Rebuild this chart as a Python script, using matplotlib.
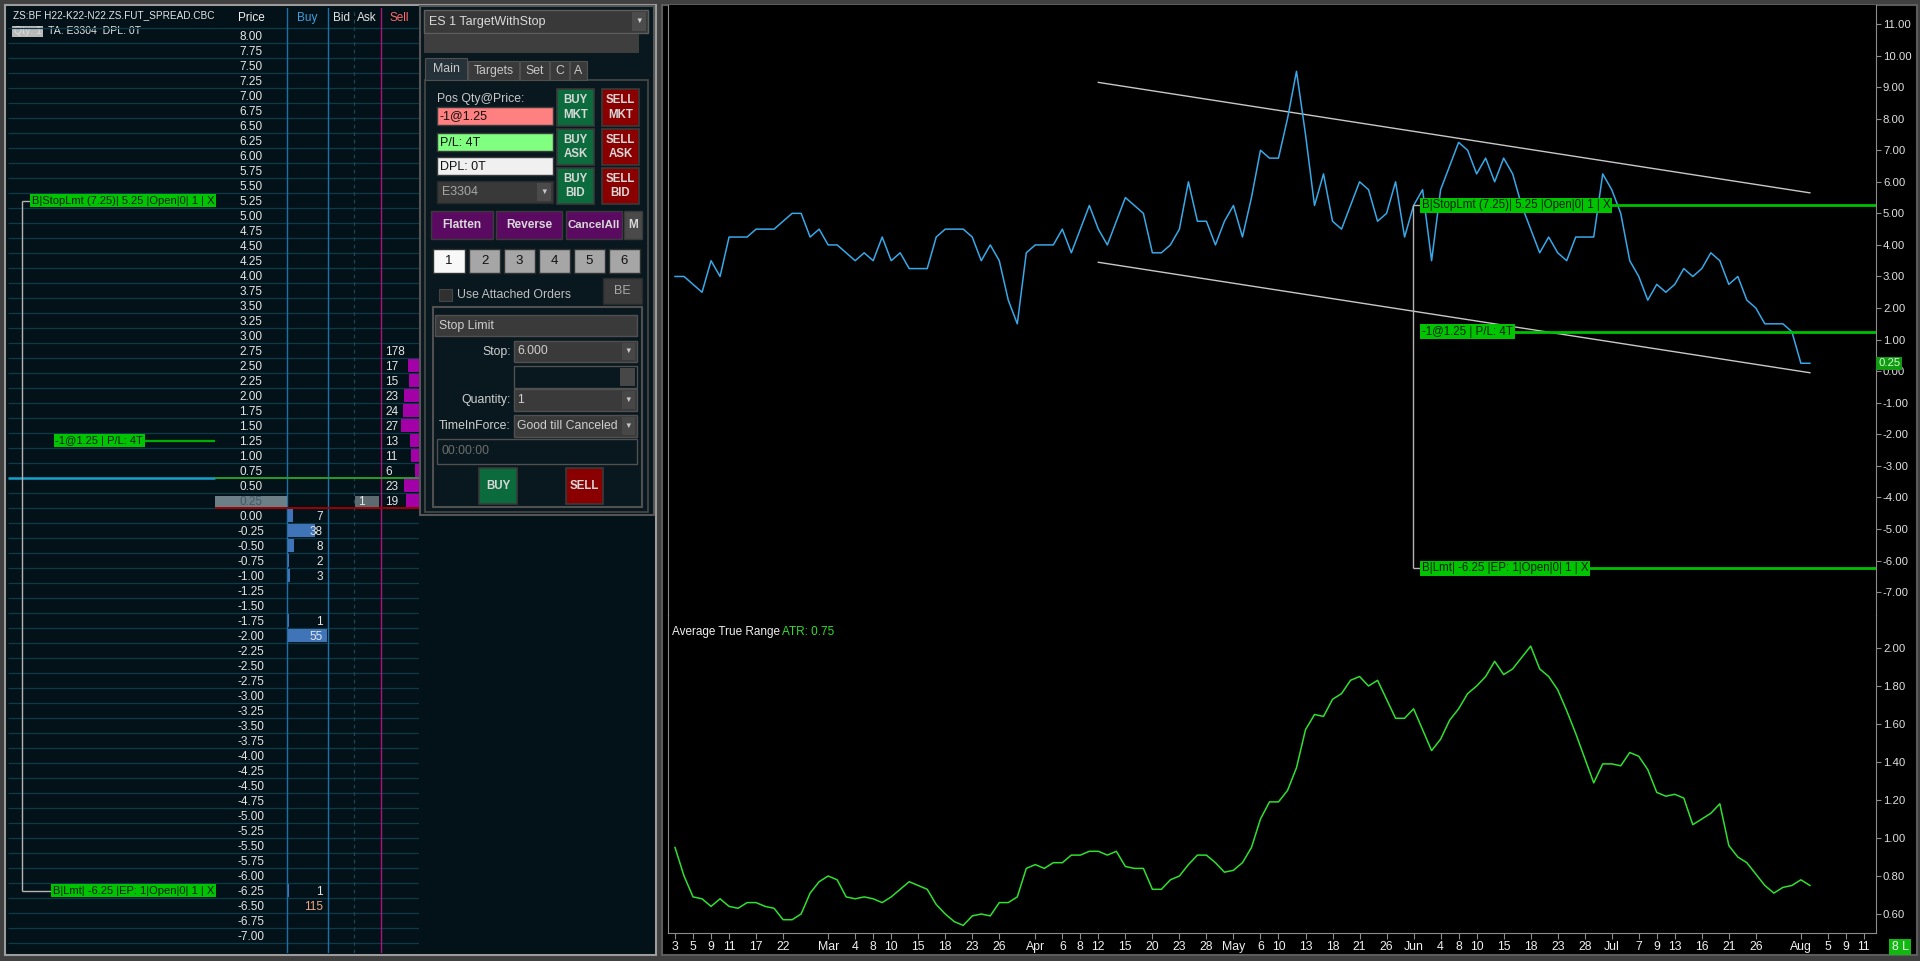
import matplotlib
matplotlib.use("Agg")
import matplotlib.pyplot as plt
from matplotlib.patches import Rectangle
from matplotlib.ticker import FormatStrFormatter
import numpy as np
import pandas as pd

plt.rcParams['font.family'] = ['Liberation Sans', 'DejaVu Sans']
plt.rcParams['axes.unicode_minus'] = False

# ---- chart data: daily closes of the spread and its ATR (Feb 3 - Aug 3) ----
holidays = ['2021-02-15', '2021-05-31', '2021-07-05']
close = [3.00, 3.00, 2.75, 2.50, 3.50, 3.00, 4.25, 4.25, 4.25, 4.50,
         4.50, 4.50, 4.75, 5.00, 5.00, 4.25, 4.50, 4.00, 4.00, 3.75,
         3.50, 3.75, 3.50, 4.25, 3.50, 3.75, 3.25, 3.25, 3.25, 4.25,
         4.50, 4.50, 4.50, 4.25, 3.50, 4.00, 3.50, 2.25, 1.50, 3.75,
         4.00, 4.00, 4.00, 4.50, 3.75, 4.50, 5.25, 4.50, 4.00, 4.75,
         5.50, 5.25, 5.00, 3.75, 3.75, 4.00, 4.50, 6.00, 4.75, 4.75,
         4.00, 4.75, 5.25, 4.25, 5.50, 7.00, 6.75, 6.75, 8.00, 9.50,
         7.50, 5.25, 6.25, 4.75, 4.50, 5.25, 6.00, 5.75, 4.75, 5.00,
         6.00, 4.25, 5.25, 5.75, 3.50, 5.75, 6.50, 7.25, 7.00, 6.25,
         6.75, 6.00, 6.75, 6.25, 5.25, 4.50, 3.75, 4.25, 3.75, 3.50,
         4.25, 4.25, 4.25, 6.25, 5.75, 5.00, 3.50, 3.00, 2.25, 2.75,
         2.50, 2.75, 3.25, 3.00, 3.25, 3.75, 3.50, 2.75, 3.00, 2.25,
         2.00, 1.50, 1.50, 1.50, 1.25, 0.25, 0.25]
atr = [0.95, 0.80, 0.69, 0.68, 0.64, 0.68, 0.64, 0.63, 0.66, 0.66,
       0.64, 0.63, 0.57, 0.57, 0.60, 0.71, 0.77, 0.80, 0.78, 0.69,
       0.68, 0.69, 0.68, 0.66, 0.69, 0.73, 0.77, 0.75, 0.73, 0.65,
       0.60, 0.56, 0.54, 0.59, 0.60, 0.59, 0.66, 0.66, 0.69, 0.84,
       0.86, 0.84, 0.87, 0.87, 0.91, 0.91, 0.93, 0.93, 0.91, 0.93,
       0.85, 0.84, 0.84, 0.73, 0.73, 0.78, 0.80, 0.86, 0.91, 0.91,
       0.87, 0.82, 0.83, 0.87, 0.95, 1.10, 1.19, 1.19, 1.25, 1.37,
       1.57, 1.65, 1.64, 1.73, 1.76, 1.83, 1.85, 1.80, 1.83, 1.73,
       1.63, 1.63, 1.68, 1.57, 1.46, 1.52, 1.62, 1.68, 1.76, 1.80,
       1.85, 1.93, 1.86, 1.89, 1.95, 2.01, 1.89, 1.85, 1.78, 1.67,
       1.55, 1.42, 1.29, 1.39, 1.39, 1.38, 1.45, 1.43, 1.36, 1.24,
       1.22, 1.23, 1.21, 1.07, 1.10, 1.13, 1.18, 0.96, 0.90, 0.87,
       0.81, 0.75, 0.71, 0.74, 0.75, 0.78, 0.75]
tick_days = ['2021-02-03', '2021-02-05', '2021-02-09', '2021-02-11', '2021-02-17', '2021-02-22',
             '2021-03-01', '2021-03-04', '2021-03-08', '2021-03-10', '2021-03-15', '2021-03-18',
             '2021-03-23', '2021-03-26', '2021-04-01', '2021-04-06', '2021-04-08', '2021-04-12',
             '2021-04-15', '2021-04-20', '2021-04-23', '2021-04-28', '2021-05-03', '2021-05-06',
             '2021-05-10', '2021-05-13', '2021-05-18', '2021-05-21', '2021-05-26', '2021-06-01',
             '2021-06-04', '2021-06-08', '2021-06-10', '2021-06-15', '2021-06-18', '2021-06-23',
             '2021-06-28', '2021-07-01', '2021-07-07', '2021-07-09', '2021-07-13', '2021-07-16',
             '2021-07-21', '2021-07-26', '2021-08-02', '2021-08-05', '2021-08-09', '2021-08-11']
channel_days = ['2021-04-12', '2021-08-03']
channel_upper = [9.15, 5.65]
channel_lower = [3.45, -0.05]
order_day = '2021-06-01'
order_prices = [5.25, 1.25, -6.25]
order_tags = ['B|StopLmt (7.25)| 5.25 |Open|0| 1 | X', '-1@1.25 | P/L: 4T',
              'B|Lmt| -6.25 |EP: 1|Open|0| 1 | X']

# ---- DOM ladder data ----
ladder = np.arange(8.0, -7.001, -0.25)
buy_px = [0.00, -0.25, -0.50, -0.75, -1.00, -1.75, -2.00, -6.25, -6.50]
buy_qty = [7, 38, 8, 2, 3, 1, 55, 1, 115]
sell_px = [2.75, 2.50, 2.25, 2.00, 1.75, 1.50, 1.25, 1.00, 0.75, 0.50, 0.25]
sell_qty = [178, 17, 15, 23, 24, 27, 13, 11, 6, 23, 19]
ask_px = [0.25]
ask_qty = [1]

W, H = 1920, 961
BG = '#031218'
GREEN = '#00c400'
FS = 8.5

fig = plt.figure(figsize=(19.2, 9.61), dpi=100, facecolor='#404040')
ui = fig.add_axes([0, 0, 1, 1])
ui.set_xlim(0, W)
ui.set_ylim(H, 0)
ui.axis('off')


def frac(x0, y0, x1, y1):
    return [x0 / W, 1 - y1 / H, (x1 - x0) / W, (y1 - y0) / H]


def box(x0, y0, x1, y1, fc, ec='none', lw=1.0, z=1):
    ui.add_patch(Rectangle((x0, y0), x1 - x0, y1 - y0, facecolor=fc,
                           edgecolor=ec, linewidth=lw, zorder=z))


def txt(x, y, s, c='#d0d0d0', size=8, ha='left', weight='normal', z=3, **kw):
    ui.text(x, y, s, color=c, fontsize=size, ha=ha, va='center',
            fontweight=weight, zorder=z, **kw)


# window frames
box(5, 5, 656, 955, BG, ec='#9c9c9c', lw=1.5)
box(662, 5, 1917, 955, 'black', ec='#5c5c5c', lw=1.5)

# ---- DOM header ----
txt(13, 15, 'ZS:BF H22-K22-N22.ZS.FUT_SPREAD.CBC', '#e4e4e4', 7.2)
box(12, 26, 43, 37, '#b9b9b9', z=2)
txt(14, 31.5, 'Qty: 1', '#dcdcdc', 7.6)
txt(48, 31.5, 'TA: E3304  DPL: 0T', '#e4e4e4', 7.6)


def ly(ypx):
    return 8 - (ypx - 35.8) / 60


dom = fig.add_axes(frac(8, 8, 419, 953))
dom.set_xlim(8, 419)
dom.set_ylim(ly(953), ly(8))
dom.axis('off')

edges = np.append(ladder + 0.125, ladder[-1] - 0.125)
dom.hlines(edges, 8, 419, color='#0c3a48', lw=0.9, zorder=1)
dom.axvline(287, color='#1e70a8', lw=1, zorder=2)
dom.axvline(328, color='#1e70a8', lw=1, zorder=2)
dom.axvline(354, color='#1b4654', lw=0.9, ls=(0, (3, 3)), zorder=2)
dom.axvline(381, color='#b0127c', lw=1, zorder=2)

hy = ly(18)
dom.text(251, hy, 'Price', color='#f2f2f2', fontsize=FS, ha='center', va='center')
dom.text(307, hy, 'Buy', color='#3ea0e0', fontsize=FS, ha='center', va='center')
dom.text(341, hy, 'Bid', color='#e4e4e4', fontsize=FS, ha='center', va='center')
dom.text(367, hy, 'Ask', color='#e4e4e4', fontsize=FS, ha='center', va='center')
dom.text(399, hy, 'Sell', color='#ff6a6a', fontsize=FS, ha='center', va='center')

last = close[-1]
dom.add_patch(Rectangle((215, last - 0.137), 72, 0.222, facecolor='#6c7e86', zorder=2))
for p in ladder:
    c = '#3e5a66' if abs(p - last) < 1e-9 else '#e6e6e6'
    dom.text(251, p - 0.02, f'{p:.2f}', color=c, fontsize=FS, ha='center', va='center', zorder=4)

for p, q in zip(buy_px, buy_qty):
    if q < 100:
        dom.barh(p, q * 0.7, left=288, height=0.21, color='#3f74b8', zorder=3)
        c = '#e6e6e6'
    else:
        c = '#f0a888'
    dom.text(323, p - 0.02, str(q), color=c, fontsize=FS, ha='right', va='center', zorder=4)

for p, q in zip(sell_px, sell_qty):
    if q < 100:
        dom.barh(p, -q * 0.64, left=418.5, height=0.21, color='#a300a8', zorder=3)
    dom.text(385, p - 0.02, str(q), color='#e6e6e6', fontsize=FS, ha='left', va='center', zorder=4)

for p, q in zip(ask_px, ask_qty):
    dom.add_patch(Rectangle((355, p - 0.137), 24, 0.222, facecolor='#5d6b70', zorder=3))
    dom.text(358, p - 0.02, str(q), color='#e6e6e6', fontsize=FS, ha='left', va='center', zorder=4)

dom.hlines(0.625, 8, 215, color='#19a0c8', lw=1.8, zorder=5)
dom.hlines(0.625, 215, 419, color='#2a9a2a', lw=1.4, zorder=5)
dom.hlines(last - 0.125, 215, 419, color='#a00000', lw=1.4, zorder=5)

# working orders + position in the DOM
dom.vlines(22, order_prices[-1], order_prices[0], color='#b4b4b4', lw=1, zorder=5)
dom.hlines([order_prices[0], order_prices[-1]], 22, 70, color='#b4b4b4', lw=1, zorder=5)
dom.hlines(order_prices[1], 140, 215, color='#00b000', lw=1.6, zorder=5)
for p, s in zip(order_prices, order_tags):
    xr = 143 if s.startswith('-') else 214
    dom.text(xr, p, s, color='#062006', fontsize=8, ha='right', va='center', zorder=6,
             bbox=dict(boxstyle='square,pad=0.15', fc=GREEN, ec='none'))

# ---- order entry panel ----
PB = '#08181e'
box(420, 6, 654, 515, PB, ec='#555555', lw=1.5)
box(424, 10, 648, 33, '#393939', ec='#5e5e5e', lw=1, z=2)
txt(429, 21.5, 'ES 1 TargetWithStop', '#dadada', 9)
box(632, 12, 646, 31, '#4c4c4c', z=2)
txt(639, 21.5, '▼', '#d0d0d0', 5.5, ha='center')
box(424, 34, 639, 53, '#3e3e3e', z=2)

box(425, 80, 648, 512, PB, ec='#4a4a4a', lw=1.2, z=2)
for name, x0, x1 in [('Main', 425, 467), ('Targets', 468, 519), ('Set', 520, 549),
                     ('C', 550, 569), ('A', 570, 587)]:
    active = name == 'Main'
    box(x0, 58 if active else 61, x1, 80, '#26323a' if active else '#3a3a3a', ec='#505050', lw=0.8, z=2)
    txt((x0 + x1) / 2, 69 if active else 71, name, '#c8c8c8', 8.8, ha='center')

txt(437, 99, 'Pos Qty@Price:', '#c8c8c8', 8.8)
for y0, fc, s in [(107, '#ff8080', '-1@1.25'), (133, '#80ff80', 'P/L: 4T'), (157, '#f0f0f0', 'DPL: 0T')]:
    box(437, y0, 553, y0 + 18, fc, ec='#3a3a3a', lw=1, z=3)
    txt(440, y0 + 9.5, s, '#111111', 9, z=4)
box(437, 181, 553, 203, '#393939', ec='#2a2a2a', lw=1, z=3)
txt(442, 192, 'E3304', '#a8a8a8', 9, z=4)
box(537, 183, 551, 201, '#4a4a4a', z=4)
txt(544, 192, '▼', '#c8c8c8', 5.5, ha='center', z=5)

for i, (y0, y1, kind) in enumerate([(89, 126, 'MKT'), (129, 165, 'ASK'), (168, 204, 'BID')]):
    box(557, y0, 594, y1, '#0b6b3c', ec='#3a3a3a', lw=1.2, z=3)
    txt(575.5, (y0 + y1) / 2, 'BUY\n' + kind, '#d8d8d8', 8.3, ha='center', weight='bold', z=4, linespacing=1.25)
    box(602, y0, 639, y1, '#8a0000', ec='#3a3a3a', lw=1.2, z=3)
    txt(620.5, (y0 + y1) / 2, 'SELL\n' + kind, '#d8d8d8', 8.3, ha='center', weight='bold', z=4, linespacing=1.25)

for s, x0, x1, fc in [('Flatten', 431, 493, '#5b0a62'), ('Reverse', 496, 562, '#5b0a62'),
                      ('CancelAll', 566, 622, '#5b0a62'), ('M', 624, 642, '#4a4a4a')]:
    box(x0, 211, x1, 239, fc, ec='#3a3a3a', lw=1, z=3)
    txt((x0 + x1) / 2, 225, s, '#d8d8d8', 8.6 if s != 'CancelAll' else 8.2, ha='center', weight='bold', z=4)

for k, (x0, x1) in enumerate([(433, 465), (469, 500), (504, 535), (539, 570), (574, 605), (609, 640)]):
    box(x0, 249, x1, 273, '#f8f8f8' if k == 0 else '#a6a6a6', ec='#303030', lw=1, z=3)
    txt((x0 + x1) / 2, 261.5, str(k + 1), '#111111', 9.5, ha='center', z=4)

box(439, 289, 452, 301, '#303030', ec='#444444', lw=0.8, z=3)
txt(457, 295, 'Use Attached Orders', '#c0c0c0', 8.8, z=4)
box(603, 278, 642, 304, '#3a3a3a', ec='#2a2a2a', lw=1, z=3)
txt(622.5, 291, 'BE', '#a8a8a8', 9, ha='center', z=4)

box(433, 307, 642, 507, PB, ec='#505050', lw=1.5, z=3)
box(435, 315, 637, 336, '#3a3a3a', ec='#505050', lw=1, z=4)
txt(439, 325.5, 'Stop Limit', '#d0d0d0', 8.8, z=5)
for y0, y1, lab, val in [(341, 362, 'Stop:', '6.000'), (389, 411, 'Quantity:', '1'),
                         (415, 437, 'TimeInForce:', 'Good till Canceled')]:
    box(514, y0, 637, y1, '#3a3a3a', ec='#505050', lw=1, z=4)
    txt(511, (y0 + y1) / 2, lab, '#d0d0d0', 8.8, ha='right', z=5)
    txt(517, (y0 + y1) / 2, val, '#cfcfcf', 8.8, z=5)
    box(622, y0 + 2, 635, y1 - 2, '#474747', z=5)
    txt(628.5, (y0 + y1) / 2, '▼', '#c8c8c8', 5.5, ha='center', z=6)
box(514, 366, 637, 388, PB, ec='#505050', lw=1, z=4)
box(620, 368, 635, 386, '#474747', z=5)
box(437, 439, 637, 464, PB, ec='#505050', lw=1, z=4)
txt(441, 451.5, '00:00:00', '#6e6e6e', 8.8, z=5)
box(479, 468, 517, 504, '#0b6b3c', ec='#3a3a3a', lw=1.2, z=4)
txt(498, 486, 'BUY', '#d8d8d8', 8.3, ha='center', weight='bold', z=5)
box(566, 468, 603, 504, '#8a0000', ec='#3a3a3a', lw=1.2, z=4)
txt(584.5, 486, 'SELL', '#d8d8d8', 8.3, ha='center', weight='bold', z=5)

# ---- price chart ----
days = pd.bdate_range('2021-02-03', '2021-08-13', freq='C', holidays=holidays)
x = np.arange(len(close))


def idx(d):
    return days.get_loc(pd.Timestamp(d))


xlim = (-0.78, 133.34)
AXC = '#8c8c8c'

pa = fig.add_axes(frac(668, 5, 1876, 615))
pa.set_facecolor('black')
pa.set_xlim(*xlim)
pa.set_ylim(11 - (615 - 24) / 31.56, 11 + (24 - 5) / 31.56)
pa.plot(x, close, color='#38a8e8', lw=1.1, zorder=3)
cx = [idx(d) for d in channel_days]
pa.plot(cx, channel_upper, color='#c8c8c8', lw=1, zorder=2)
pa.plot(cx, channel_lower, color='#c8c8c8', lw=1, zorder=2)

ox = idx(order_day) - 0.1
pa.hlines(order_prices, ox + 0.9, xlim[1], color='#00c000', lw=2, zorder=4)
pa.vlines(ox, order_prices[-1], order_prices[0], color='#b4b4b4', lw=1, zorder=4)
pa.hlines([order_prices[0], order_prices[-1]], ox, ox + 1.2, color='#b4b4b4', lw=1, zorder=4)
for p, s in zip(order_prices, order_tags):
    pa.text(ox + 1.05, p, s, color='#062006', fontsize=8.3, ha='left', va='center', zorder=6,
            bbox=dict(boxstyle='square,pad=0.15', fc=GREEN, ec='none'))

pa.yaxis.tick_right()
pa.set_yticks(np.arange(-7, 12, 1))
pa.yaxis.set_major_formatter(FormatStrFormatter('%.2f'))
pa.set_xticks([])
pa.tick_params(axis='y', colors=AXC, labelcolor='#e0e0e0', labelsize=8.2, length=3.5, width=0.8, pad=1.5)
for side in ['top', 'bottom']:
    pa.spines[side].set_visible(False)
for side in ['left', 'right']:
    pa.spines[side].set_color(AXC)
pa.text(1.0017, last, f'{last:.2f}', transform=pa.get_yaxis_transform(), color='#c8ffc8',
        fontsize=8.2, ha='left', va='center', zorder=7,
        bbox=dict(boxstyle='square,pad=0.15', fc='#129a12', ec='none'))

box(668, 7, 747, 22, '#8a8a8a', z=2)
txt(670, 14.5, 'Trade: 1@3.50', '#f4f4f4', 8.5, z=3)
txt(750, 14.5, 'Daily DPL: 0T', '#f4f4f4', 8.5, z=3)
pa.set_zorder(1)

# ---- ATR pane ----
aa = fig.add_axes(frac(668, 615, 1876, 933))
aa.set_facecolor('black')
aa.set_xlim(*xlim)
aa.set_ylim(0.5, 2 + (648 - 615) / 190)
aa.plot(x, atr, color='#2fe02f', lw=1.1)
aa.yaxis.tick_right()
aa.set_yticks(np.arange(0.6, 2.01, 0.2))
aa.yaxis.set_major_formatter(FormatStrFormatter('%.2f'))
tpos = [idx(d) for d in tick_days]
tlab = []
for d, i in zip(tick_days, tpos):
    ts = pd.Timestamp(d)
    if i > 0 and days[i - 1].month != ts.month:
        tlab.append(ts.strftime('%b'))
    else:
        tlab.append(str(ts.day))
aa.set_xticks(tpos, tlab)
aa.tick_params(axis='y', colors=AXC, labelcolor='#e0e0e0', labelsize=8.2, length=3.5, width=0.8, pad=1.5)
aa.tick_params(axis='x', colors=AXC, labelcolor='#f0f0f0', labelsize=8.8, length=4, width=0.8, pad=1.5)
aa.spines['top'].set_visible(False)
for side in ['left', 'right', 'bottom']:
    aa.spines[side].set_color(AXC)
aa.text(0.0035, 0.947, 'Average True Range', transform=aa.transAxes, color='#f0f0f0',
        fontsize=8.5, ha='left', va='center')
aa.text(0.0945, 0.947, f'ATR: {atr[-1]:.2f}', transform=aa.transAxes, color='#2fe02f',
        fontsize=8.5, ha='left', va='center')

txt(1900, 947, '8 L', '#f0fff0', 8.8, ha='center', z=4,
    bbox=dict(boxstyle='square,pad=0.2', fc='#10b810', ec='none'))

fig.savefig('out.png', dpi=100, facecolor=fig.get_facecolor())
